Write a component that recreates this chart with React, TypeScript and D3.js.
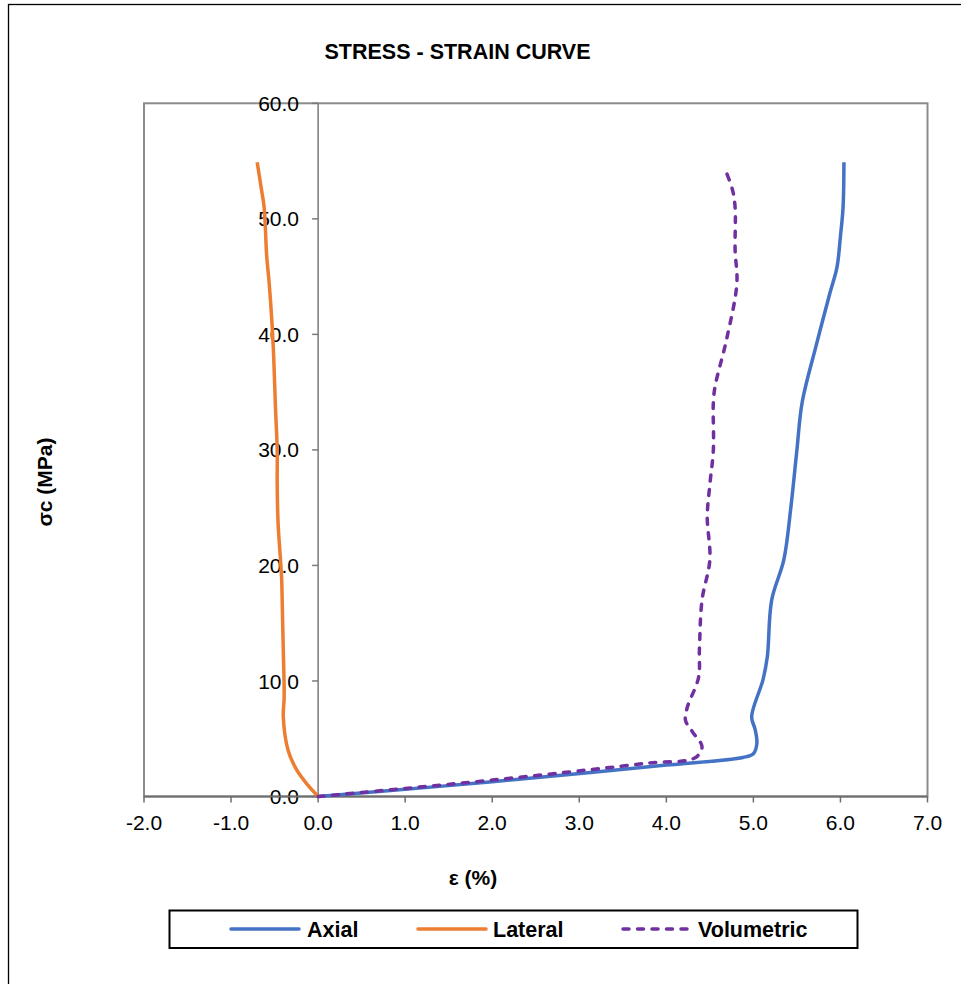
import React from "react";
import * as d3 from "d3";

// Strain (%) and stress (MPa) values
const axialStrain = [0, 1.0, 2.0, 3.1, 4.0, 4.88, 5.0, 5.04, 5.02, 4.98, 5.11, 5.16, 5.21, 5.35, 5.43, 5.5, 5.56, 5.72, 5.88, 5.96, 6.0, 6.03, 6.04];
const axialStress = [0, 0.62, 1.28, 2.05, 2.72, 3.38, 3.7, 4.6, 5.8, 6.9, 10.1, 12.1, 17.0, 20.5, 25.0, 30.0, 34.1, 39.0, 43.6, 45.8, 48.5, 51.0, 54.9];

const lateralStrain = [0, -0.12, -0.246, -0.345, -0.4, -0.39, -0.4, -0.41, -0.42, -0.46, -0.47, -0.47, -0.49, -0.51, -0.53, -0.565, -0.59, -0.62, -0.65, -0.7];
const lateralStress = [0, 1.0, 2.3, 4.0, 6.9, 8.6, 12.7, 16.0, 19.0, 23.7, 27.1, 30.0, 33.7, 38.0, 41.0, 44.7, 46.7, 51.0, 52.5, 54.9];

const volStrain = [0, 1.0, 2.0, 3.1, 3.8, 4.33, 4.41, 4.3, 4.22, 4.24, 4.37, 4.38, 4.41, 4.5, 4.47, 4.5, 4.54, 4.54, 4.56, 4.69, 4.81, 4.79, 4.79, 4.76, 4.68];
const volStress = [0, 0.7, 1.42, 2.3, 2.9, 3.35, 4.3, 5.6, 6.6, 7.7, 10.3, 12.7, 17.0, 20.5, 24.2, 27.0, 30.0, 34.1, 35.5, 39.5, 44.4, 47.3, 51.0, 52.5, 54.2];

const xTicks = [-2, -1, 0, 1, 2, 3, 4, 5, 6, 7];
const yTicks = [0, 10, 20, 30, 40, 50, 60];

const seriesNames = ["Axial", "Lateral", "Volumetric"];
const seriesColors = ["#4472C4", "#ED7D31", "#7030A0"];

const FONT = "'Liberation Sans', Arial, sans-serif";

export default function App() {
  const left = 144, right = 927.5, top = 103.3, bottom = 796.5;
  const x = d3.scaleLinear().domain([-2, 7]).range([left, right]);
  const y = d3.scaleLinear().domain([0, 60]).range([bottom, top]);

  const line = d3
    .line<[number, number]>()
    .x((d) => x(d[0]))
    .y((d) => y(d[1]))
    .curve(d3.curveCatmullRom.alpha(0.5));

  const series = [
    { name: seriesNames[0], color: seriesColors[0], pts: axialStrain.map((v, i) => [v, axialStress[i]] as [number, number]), dash: undefined as string | undefined },
    { name: seriesNames[1], color: seriesColors[1], pts: lateralStrain.map((v, i) => [v, lateralStress[i]] as [number, number]), dash: undefined as string | undefined },
    { name: seriesNames[2], color: seriesColors[2], pts: volStrain.map((v, i) => [v, volStress[i]] as [number, number]), dash: "6,8.5" as string | undefined },
  ];

  const x0 = x(0);
  const y0 = y(0);

  const legendItems = [
    { lx: 231, tx: 307 },
    { lx: 418, tx: 493 },
    { lx: 623, tx: 698 },
  ];

  return (
    <svg
      width={961}
      height={984}
      style={{ position: "absolute", left: 0, top: 0, background: "#fff" }}
      fontFamily={FONT}
    >
      <rect x={0} y={0} width={961} height={984} fill="#fff" />
      {/* outer chart frame */}
      <rect x={8.5} y={4.5} width={1000} height={1000} fill="none" stroke="#000" strokeWidth={1.3} />

      {/* title */}
      <text x={457.5} y={59} textAnchor="middle" fontSize={21.5} fontWeight="bold" fill="#000">
        STRESS - STRAIN CURVE
      </text>

      {/* plot area border */}
      <rect x={left} y={top} width={right - left} height={bottom - top} fill="none" stroke="#8c8c8c" strokeWidth={2} />

      {/* y axis at x=0 */}
      <line x1={x0} x2={x0} y1={top} y2={bottom} stroke="#7a7a7a" strokeWidth={1.5} />
      {yTicks.map((t) => (
        <g key={"y" + t}>
          <line x1={x0 - 6} x2={x0} y1={y(t)} y2={y(t)} stroke="#7a7a7a" strokeWidth={1.5} />
          <text x={299} y={y(t)} dy="0.36em" textAnchor="end" fontSize={21} fill="#000">
            {t.toFixed(1)}
          </text>
        </g>
      ))}

      {/* x axis at y=0 */}
      <line x1={left} x2={right} y1={y0} y2={y0} stroke="#6e6e6e" strokeWidth={2} />
      {xTicks.map((t) => (
        <g key={"x" + t}>
          <line x1={x(t)} x2={x(t)} y1={y0} y2={y0 + 6} stroke="#6e6e6e" strokeWidth={1.5} />
          <text x={x(t)} y={830} textAnchor="middle" fontSize={21} fill="#000">
            {t.toFixed(1)}
          </text>
        </g>
      ))}

      {/* series */}
      {series.map((s) => (
        <path
          key={s.name}
          d={line(s.pts) || ""}
          fill="none"
          stroke={s.color}
          strokeWidth={3.5}
          strokeDasharray={s.dash}
          strokeLinecap={s.dash ? "round" : "butt"}
          strokeLinejoin="round"
        />
      ))}

      {/* axis titles */}
      <text x={473} y={885} textAnchor="middle" fontSize={21} fontWeight="bold" fill="#000">
        ε (%)
      </text>
      <text
        transform="translate(52,482) rotate(-90)"
        textAnchor="middle"
        fontSize={21}
        fontWeight="bold"
        fill="#000"
      >
        σc (MPa)
      </text>

      {/* legend */}
      <rect x={169.5} y={910.5} width={688} height={37.5} fill="#fff" stroke="#000" strokeWidth={2} />
      {series.map((s, i) => (
        <g key={"lg" + s.name}>
          <line
            x1={legendItems[i].lx}
            x2={legendItems[i].lx + 68}
            y1={929}
            y2={929}
            stroke={s.color}
            strokeWidth={3.5}
            strokeDasharray={s.dash}
            strokeLinecap="round"
          />
          <text x={legendItems[i].tx} y={929} dy="0.36em" fontSize={21.5} fontWeight="bold" fill="#000">
            {s.name}
          </text>
        </g>
      ))}
    </svg>
  );
}
